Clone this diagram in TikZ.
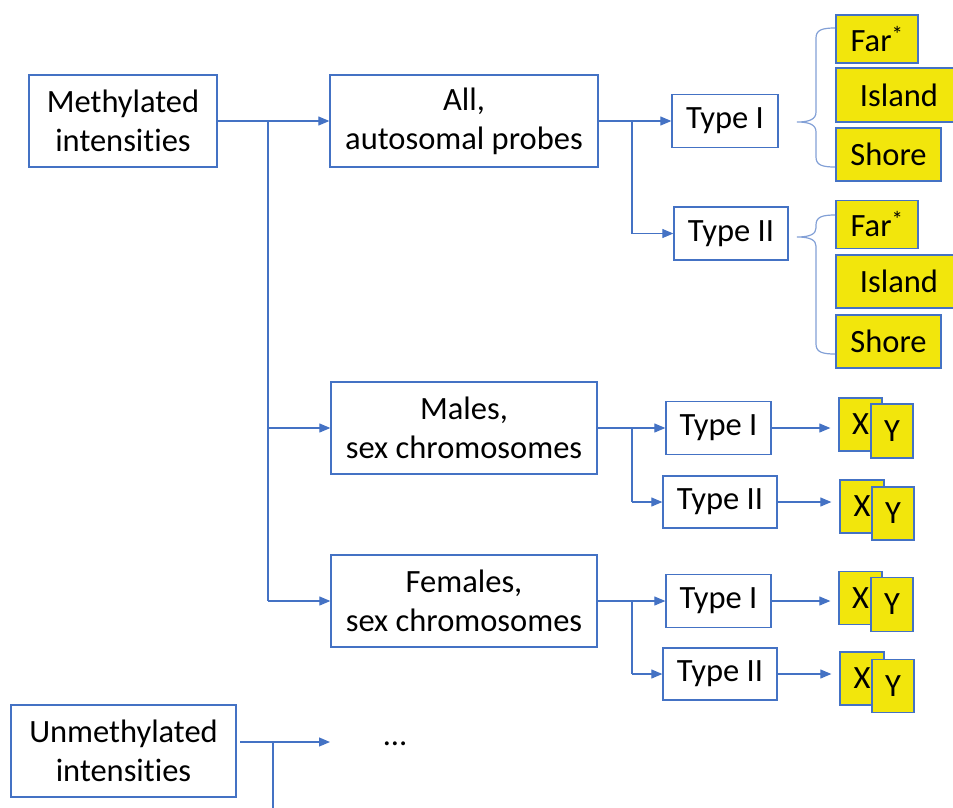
\documentclass[tikz,border=0pt]{standalone}
\usepackage{fontspec}
\setmainfont[Ligatures=NoCommon]{Carlito}
\usetikzlibrary{arrows.meta}
\definecolor{lblue}{RGB}{68,114,196}
\definecolor{bblue}{RGB}{130,160,214}
\definecolor{ylw}{RGB}{242,230,12}
\tikzset{
  box/.style={draw=lblue,line width=1.3pt,fill=white,align=center,inner sep=0pt,font=\fontsize{32.5}{39}\selectfont},
  ybox/.style={box,fill=ylw},
  conn/.style={draw=lblue,line width=1.1pt},
  arr/.style={conn,-{Triangle[length=11pt,width=9pt]}},
  brace/.style={draw=bblue,line width=1.2pt}
}
\begin{document}
\begin{tikzpicture}[x=1pt,y=-1pt]
\useasboundingbox (0,0) rectangle (953,807);
\clip (0,0) rectangle (953,807);
% main boxes
\node[box,minimum width=188pt,minimum height=92pt] (meth) at (123,121) {Methylated\\intensities};
\node[box,minimum width=268pt,minimum height=92pt] (all) at (464,121) {All,\\autosomal probes};
\node[box,minimum width=266pt,minimum height=92pt] (males) at (464,428) {Males,\\sex chromosomes};
\node[box,minimum width=266pt,minimum height=92pt] (fem) at (464,601) {Females,\\sex chromosomes};
\node[box,minimum width=225pt,minimum height=92pt] (unmeth) at (123.5,751) {Unmethylated\\intensities};
\node[font=\fontsize{32.5}{39}\selectfont] (dots) at (395,744) {…};
% type boxes
\node[box,minimum width=106pt,minimum height=53pt] (t1a) at (725,121) {Type I};
\node[box,minimum width=114pt,minimum height=53pt] (t2a) at (731,233.5) {Type II};
\node[box,minimum width=105pt,minimum height=53pt] (t1m) at (718.5,428) {Type I};
\node[box,minimum width=114pt,minimum height=52pt] (t2m) at (720,502) {Type II};
\node[box,minimum width=105pt,minimum height=53pt] (t1f) at (718.5,601) {Type I};
\node[box,minimum width=114pt,minimum height=52pt] (t2f) at (720,674) {Type II};
% yellow region boxes
\node[ybox,minimum width=82pt,minimum height=48pt] (fara) at (877,39) {Far\textsuperscript{*}};
\node[ybox,minimum width=126pt,minimum height=54pt] (isla) at (899,95) {Island};
\node[ybox,minimum width=105pt,minimum height=53pt] (shorea) at (888.5,154.5) {Shore};
\node[ybox,minimum width=82pt,minimum height=48pt] (farb) at (877,224.5) {Far\textsuperscript{*}};
\node[ybox,minimum width=126pt,minimum height=53pt] (islb) at (899,281.5) {Island};
\node[ybox,minimum width=105pt,minimum height=53pt] (shoreb) at (888.5,341.5) {Shore};
% X/Y boxes
\node[ybox,minimum width=43pt,minimum height=53pt] (xm1) at (860.5,424.5) {X};
\node[ybox,minimum width=42pt,minimum height=54pt] (ym1) at (892,431) {Y};
\node[ybox,minimum width=44pt,minimum height=53pt] (xm2) at (862,506.5) {X};
\node[ybox,minimum width=42pt,minimum height=53pt] (ym2) at (893,513.5) {Y};
\node[ybox,minimum width=43pt,minimum height=53pt] (xf1) at (860.5,598) {X};
\node[ybox,minimum width=42pt,minimum height=54pt] (yf1) at (892,604.5) {Y};
\node[ybox,minimum width=44pt,minimum height=53pt] (xf2) at (862,678.5) {X};
\node[ybox,minimum width=42pt,minimum height=53pt] (yf2) at (893,686) {Y};
% connectors level 1
\coordinate (j1) at (268,121);
\draw[arr] (meth.east) -- (all.west);
\draw[conn] (j1) -- (j1 |- fem.west);
\draw[arr] (j1 |- males.west) -- (males.west);
\draw[arr] (j1 |- fem.west) -- (fem.west);
% unmethylated
\coordinate (u0) at (240,742);
\coordinate (u1) at (330,742);
\coordinate (ju) at (273,742);
\coordinate (ju2) at (273,812);
\draw[arr] (u0) -- (u1);
\draw[conn] (ju) -- (ju2);
% level 2
\coordinate (j2) at (632,121);
\draw[arr] (all.east) -- (t1a.west);
\draw[arr] (j2 |- t2a.west) -- (t2a.west);
\draw[conn] (j2) -- (j2 |- t2a.west);
\coordinate (j3) at (632,428);
\draw[arr] (males.east) -- (t1m.west);
\draw[conn] (j3) -- (j3 |- t2m.west);
\draw[arr] (j3 |- t2m.west) -- (t2m.west);
\coordinate (j4) at (632,601);
\draw[arr] (fem.east) -- (t1f.west);
\draw[conn] (j4) -- (j4 |- t2f.west);
\draw[arr] (j4 |- t2f.west) -- (t2f.west);
% to X/Y
\draw[arr,shorten >=8pt] (t1m.east) -- (t1m.east -| xm1.west);
\draw[arr,shorten >=8pt] (t2m.east) -- (t2m.east -| xm2.west);
\draw[arr,shorten >=8pt] (t1f.east) -- (t1f.east -| xf1.west);
\draw[arr,shorten >=8pt] (t2f.east) -- (t2f.east -| xf2.west);
% braces
\draw[brace] (835,28) .. controls (822,28) and (816,30) .. (816,38) -- (816,112)
  .. controls (816,119) and (810,122) .. (797,122)
  .. controls (810,122) and (816,125) .. (816,132) -- (816,157)
  .. controls (816,165) and (822,167) .. (835,167);
\draw[brace] (835,215) .. controls (822,215) and (816,217) .. (816,225) -- (816,228)
  .. controls (816,234) and (810,237) .. (797,237)
  .. controls (810,237) and (816,240) .. (816,246) -- (816,344)
  .. controls (816,352) and (822,354) .. (835,354);
\end{tikzpicture}
\end{document}
